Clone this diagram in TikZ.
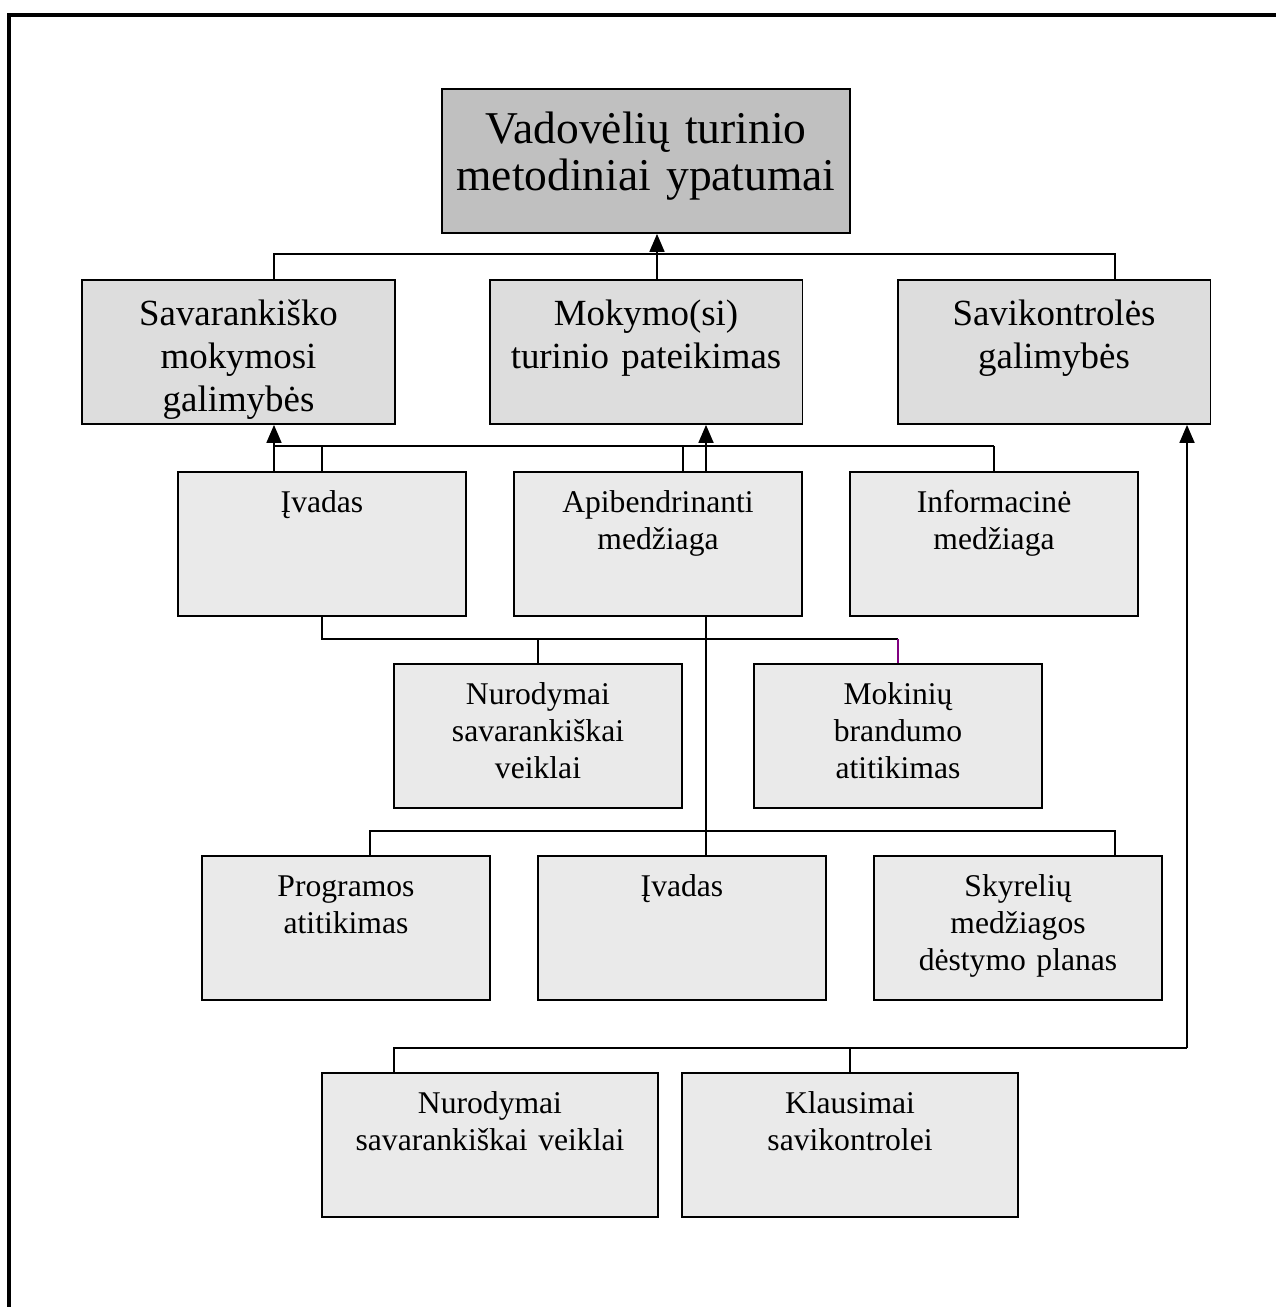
\documentclass[tikz,border=0pt]{standalone}
\usepackage{fontspec}
\setmainfont{Liberation Serif}
\usepackage{xcolor}
\usetikzlibrary{arrows.meta,positioning,calc}

\definecolor{vadgray}{RGB}{192,192,192}
\definecolor{midgray}{RGB}{221,221,221}
\definecolor{lowgray}{RGB}{234,234,234}
\definecolor{linkpurple}{RGB}{128,0,128}

\newcommand{\fonttop}{\fontsize{25.9pt}{26.6pt}\selectfont}
\newcommand{\fontmid}{\fontsize{21pt}{24.4pt}\selectfont}
\newcommand{\fontlow}{\fontsize{18pt}{20.8pt}\selectfont}

\begin{document}
\begin{tikzpicture}[x=0.02cm, y=-0.02cm,
    box/.style={draw, line width=1.1pt, fill=lowgray, anchor=north, align=center, inner xsep=0.1cm, inner ysep=0pt, text width=5.56cm, text height=0.82cm, text depth=2.06cm, font=\fontlow},
    midbox/.style={box, fill=midgray, text width=6.06cm, text height=0.92cm, text depth=1.96cm, font=\fontmid},
    link/.style={line width=1pt},
    arrow/.style={link, -{Triangle[length=0.36cm, width=0.3cm]}}]
    \useasboundingbox (0,0) rectangle (1275,1307);
    \draw[line width=1.8pt] (9,15) rectangle (1300,1330);

    % levels of boxes
    \node[box, fill=vadgray, text width=7.96cm, text height=1.1cm, text depth=1.78cm, font=\fonttop] (vad) at (646,88) {Vadovėlių turinio\\metodiniai ypatumai};
    \node[midbox] (sav) at (238.5,279) {Savarankiško\\mokymosi\\galimybės};
    \node[midbox] (mok) at (646,279) {Mokymo(si)\\turinio pateikimas};
    \node[midbox] (savk) at (1054,279) {Savikontrolės\\galimybės};
    \node[box] (ivadA) at (322,471) {Įvadas};
    \node[box] (apib) at (658,471) {Apibendrinanti\\medžiaga};
    \node[box] (info) at (994,471) {Informacinė\\medžiaga};
    \node[box] (nuroA) at (538,663) {Nurodymai\\savarankiškai\\veiklai};
    \node[box] (moki) at (898,663) {Mokinių\\brandumo\\atitikimas};
    \node[box] (prog) at (346,855) {Programos\\atitikimas};
    \node[box] (ivadB) at (682,855) {Įvadas};
    \node[box] (skyr) at (1018,855) {Skyrelių\\medžiagos\\dėstymo planas};
    \node[box, text width=6.52cm] (nuroB) at (490,1072) {Nurodymai\\savarankiškai veiklai};
    \node[box, text width=6.52cm] (klaus) at (850,1072) {Klausimai\\savikontrolei};

    % bus points
    \coordinate (t1) at (274,254);
    \coordinate (t2) at (1115,254);
    \coordinate (t3) at (657,254);
    \coordinate (m1) at (274,446);
    \coordinate (m2) at (994,446);
    \coordinate (m3) at (683,446);
    \coordinate (mc) at (706,446);
    \coordinate (n2) at (898,639);
    \coordinate (p1) at (370,831);
    \coordinate (p2) at (1115,831);
    \coordinate (q1) at (394,1048);
    \coordinate (q2) at (1187,1048);

    \draw[link] (t1 |- sav.north) -- (t1) -- (t2) -- (t2 |- savk.north);
    \draw[arrow] (t3 |- mok.north) -- (t3 |- vad.south);

    \draw[link] (m1) -- (m2);
    \draw[arrow] (m1 |- ivadA.north) -- (m1 |- sav.south);
    \draw[link] (ivadA.north) -- (ivadA.north |- m1);
    \draw[link] (m3 |- apib.north) -- (m3);
    \draw[link] (info.north) -- (info.north |- m1);
    \draw[arrow] (mc |- apib.north) -- (mc |- mok.south);

    \draw[link] (ivadA.south) |- (n2);
    \draw[link] (nuroA.north) -- (nuroA.north |- n2);
    \draw[link, linkpurple] (moki.north) -- (n2);

    \draw[link] (mc |- apib.south) -- (mc |- ivadB.north);
    \draw[link] (p1 |- prog.north) -- (p1) -- (p2) -- (p2 |- skyr.north);

    \draw[link] (q1 |- nuroB.north) -- (q1) -- (q2);
    \draw[link] (klaus.north) -- (klaus.north |- q1);
    \draw[arrow] (q2) -- (q2 |- savk.south);
\end{tikzpicture}
\end{document}
